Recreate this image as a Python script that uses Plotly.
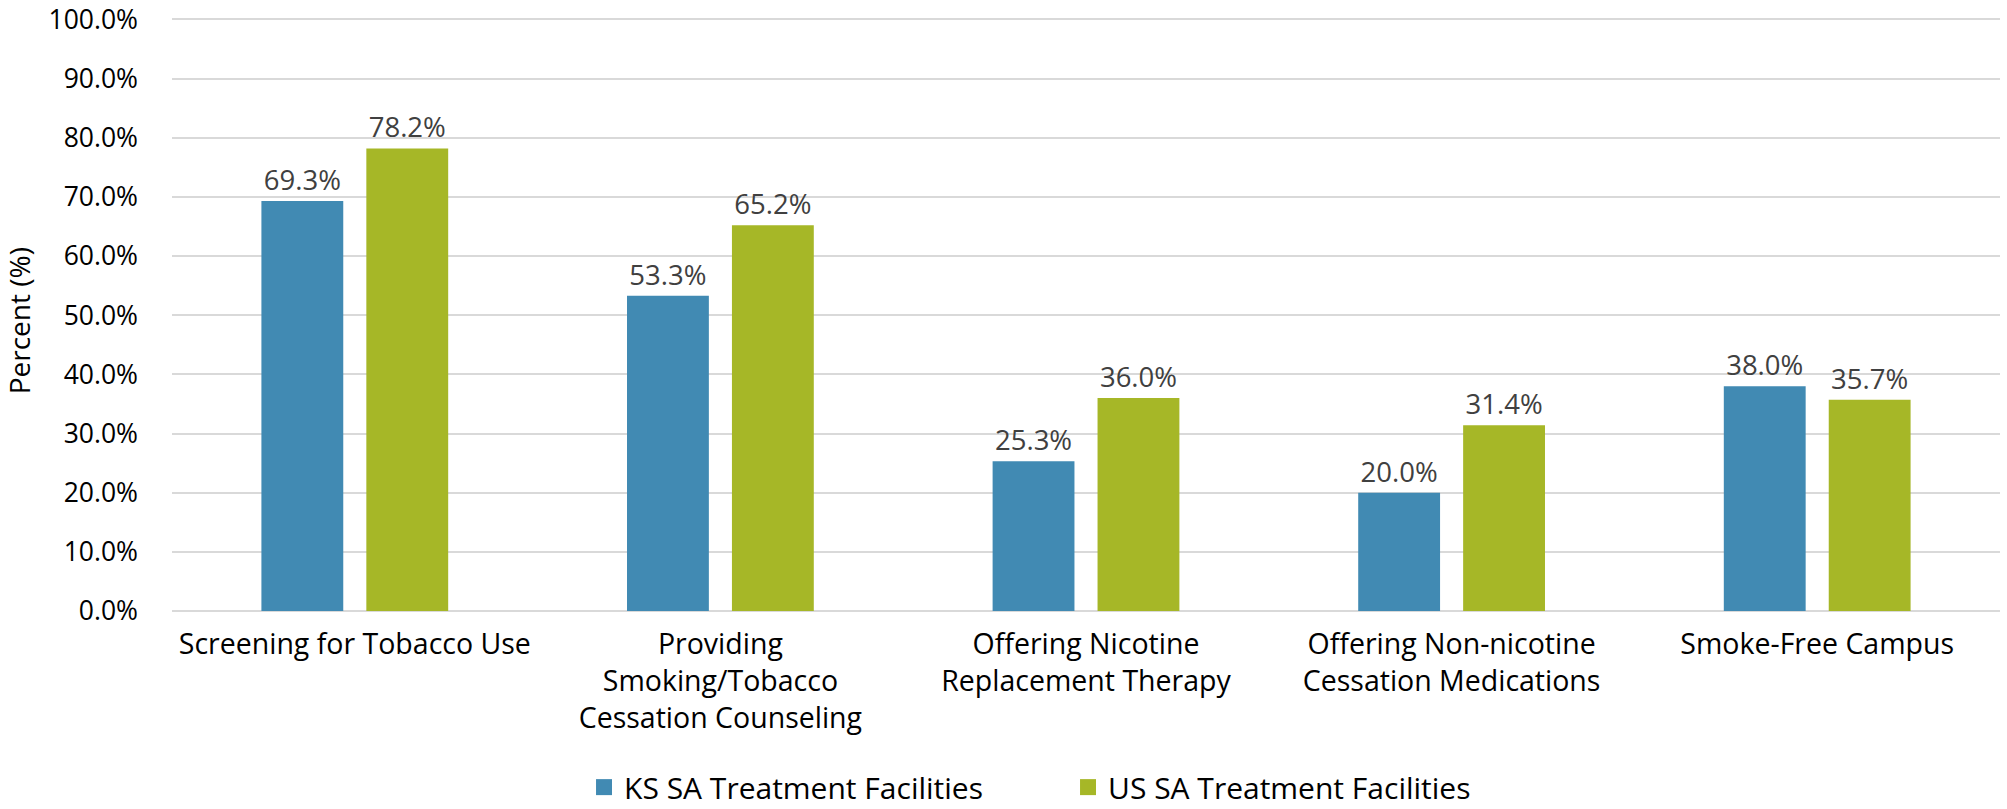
import plotly.graph_objects as go

categories = [
    "Screening for Tobacco Use",
    "Providing<br>Smoking/Tobacco<br>Cessation Counseling",
    "Offering Nicotine<br>Replacement Therapy",
    "Offering Non-nicotine<br>Cessation Medications",
    "Smoke-Free Campus",
]
ks_values = [69.3, 53.3, 25.3, 20.0, 38.0]
us_values = [78.2, 65.2, 36.0, 31.4, 35.7]
series_names = ["KS SA Treatment Facilities", "US SA Treatment Facilities"]
series_colors = ["#418AB3", "#A6B727"]
y_ticks = [0, 10, 20, 30, 40, 50, 60, 70, 80, 90, 100]
y_tick_labels = [f"{v:.1f}%" for v in y_ticks]
y_title = "Percent (%)"

FONT = "Open Sans"

fig = go.Figure()
for name, vals, color in zip(series_names, [ks_values, us_values], series_colors):
    fig.add_trace(go.Bar(
        name=name, x=categories, y=vals, legendgroup=name, showlegend=False,
        marker=dict(color=color, line=dict(width=0)),
        texttemplate="%{y:.1f}%", textposition="outside",
        textfont=dict(family=FONT, size=27.5, color="#404040"),
        cliponaxis=False,
    ))
# legend entries with larger square swatches
for name, color in zip(series_names, series_colors):
    fig.add_trace(go.Scatter(
        name=name, x=[None], y=[None], mode="markers", legendgroup=name,
        marker=dict(symbol="square", size=18, color=color, line=dict(width=0)),
        showlegend=True, hoverinfo="skip",
    ))

fig.update_layout(
    width=2007, height=809,
    margin=dict(l=172, r=7, t=18, b=198, autoexpand=False),
    paper_bgcolor="white", plot_bgcolor="white",
    barmode="group", bargap=0.426, bargroupgap=0.22,
    font=dict(family=FONT, size=26, color="black"),
    legend=dict(orientation="h", x=0.2254, xanchor="left", y=-0.297, yanchor="middle",
                font=dict(family=FONT, size=30, color="black"),
                entrywidth=439, entrywidthmode="pixels", itemwidth=30),
    showlegend=True,
    annotations=[dict(text=y_title, xref="paper", yref="paper", x=-0.0832, y=0.49,
                      xanchor="center", yanchor="middle", textangle=-90, showarrow=False,
                      font=dict(family=FONT, size=28, color="black"))],
)
fig.update_yaxes(
    range=[0, 100.25], tickvals=y_ticks, ticktext=y_tick_labels,
    showgrid=True, gridcolor="#D9D9D9", gridwidth=2,
    zeroline=True, zerolinecolor="#D9D9D9", zerolinewidth=2,
    tickfont=dict(family=FONT, size=26.5, color="black"),
    ticks="", ticklabelstandoff=33, automargin=False, ticklabeloverflow="allow",
)
fig.update_xaxes(
    tickfont=dict(family=FONT, size=28.5, color="black"),
    showline=False, ticks="", automargin=False, ticklabelstandoff=13,
    ticklabeloverflow="allow",
)

fig.write_html("out.html", config={"displayModeBar": False},
               post_script="document.body.style.margin='0';")
